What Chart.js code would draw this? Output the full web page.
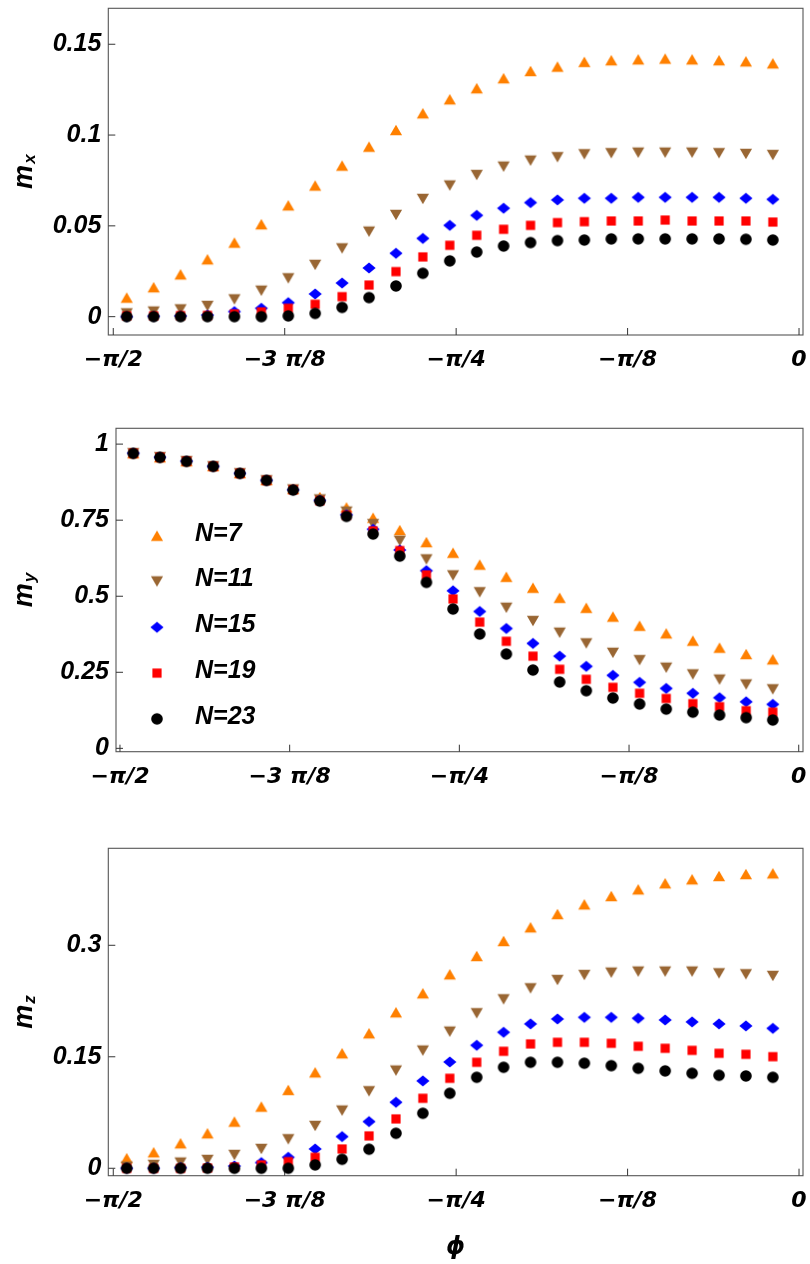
<!DOCTYPE html>
<html><head><meta charset="utf-8">
<script src="https://cdn.jsdelivr.net/npm/chart.js@4.4.1/dist/chart.umd.min.js"></script>
<style>
html,body{margin:0;padding:0;background:#fff;}
.p{position:absolute;left:0;width:810px;}
canvas{display:block;}
</style></head><body>
<div class="p" style="top:0;height:420px"><canvas id="c1"></canvas></div>
<div class="p" style="top:420px;height:420px"><canvas id="c2"></canvas></div>
<div class="p" style="top:840px;height:424px"><canvas id="c3"></canvas></div>
<script>
// ---------- data ----------
const phi = [-1.5400, -1.4783, -1.4167, -1.3550, -1.2933, -1.2317, -1.1700, -1.1083, -1.0467, -0.9850,
             -0.9233, -0.8617, -0.8000, -0.7383, -0.6767, -0.6150, -0.5533, -0.4917, -0.4300, -0.3683,
             -0.3067, -0.2450, -0.1833, -0.1217, -0.0600];
const seriesLabels = ['N=7', 'N=11', 'N=15', 'N=19', 'N=23'];
const seriesColors = ['#FF8000', '#996633', '#0000FF', '#FF0000', '#000000'];

const mx7  = [0.0105, 0.0162, 0.0233, 0.0316, 0.0408, 0.0509, 0.0613, 0.0722, 0.0832, 0.0936, 0.1028, 0.1120, 0.1197, 0.1258, 0.1313, 0.1353, 0.1377, 0.1403, 0.1412, 0.1417, 0.1421, 0.1417, 0.1412, 0.1406, 0.1395];
const mx11 = [0.0018, 0.0028, 0.0040, 0.0059, 0.0095, 0.0143, 0.0211, 0.0285, 0.0376, 0.0468, 0.0560, 0.0648, 0.0722, 0.0780, 0.0826, 0.0859, 0.0878, 0.0894, 0.0900, 0.0903, 0.0903, 0.0903, 0.0900, 0.0896, 0.0890];
const mx15 = [0.0000, 0.0002, 0.0004, 0.0009, 0.0028, 0.0046, 0.0077, 0.0125, 0.0185, 0.0268, 0.0349, 0.0431, 0.0503, 0.0558, 0.0597, 0.0628, 0.0643, 0.0652, 0.0652, 0.0657, 0.0657, 0.0657, 0.0657, 0.0652, 0.0646];
const mx19 = [0.0004, 0.0004, 0.0006, 0.0007, 0.0015, 0.0026, 0.0046, 0.0068, 0.0110, 0.0174, 0.0248, 0.0329, 0.0393, 0.0448, 0.0481, 0.0503, 0.0518, 0.0523, 0.0527, 0.0527, 0.0532, 0.0527, 0.0527, 0.0527, 0.0521];
const mx23 = [0.0000, 0.0000, 0.0000, 0.0000, 0.0000, 0.0000, 0.0004, 0.0018, 0.0051, 0.0105, 0.0169, 0.0239, 0.0307, 0.0356, 0.0389, 0.0408, 0.0419, 0.0422, 0.0428, 0.0428, 0.0428, 0.0428, 0.0428, 0.0426, 0.0422];

const my7  = [0.970, 0.957, 0.944, 0.928, 0.905, 0.882, 0.853, 0.826, 0.792, 0.758, 0.7175, 0.678, 0.643, 0.604, 0.564, 0.528, 0.495, 0.462, 0.433, 0.403, 0.378, 0.354, 0.331, 0.310, 0.2925];
const my11 = [0.970, 0.957, 0.944, 0.927, 0.904, 0.881, 0.851, 0.818, 0.778, 0.737, 0.682, 0.621, 0.5685, 0.513, 0.462, 0.4185, 0.380, 0.345, 0.314, 0.290, 0.265, 0.243, 0.226, 0.210, 0.194];
const my15 = [0.970, 0.957, 0.944, 0.927, 0.904, 0.881, 0.850, 0.815, 0.768, 0.720, 0.652, 0.584, 0.518, 0.450, 0.394, 0.345, 0.303, 0.2695, 0.240, 0.217, 0.197, 0.181, 0.1665, 0.153, 0.1446];
const my19 = [0.970, 0.957, 0.944, 0.927, 0.904, 0.881, 0.850, 0.814, 0.766, 0.715, 0.650, 0.570, 0.491, 0.415, 0.352, 0.303, 0.260, 0.227, 0.2005, 0.181, 0.164, 0.147, 0.137, 0.124, 0.119];
const my23 = [0.9694, 0.9563, 0.9432, 0.9267, 0.9037, 0.8807, 0.8489, 0.8128, 0.7624, 0.7044, 0.632, 0.5455, 0.458, 0.3757, 0.310, 0.2574, 0.218, 0.1895, 0.1654, 0.1457, 0.129, 0.119, 0.1095, 0.1008, 0.0931];

const mz7  = [0.0135, 0.0215, 0.0336, 0.0471, 0.0628, 0.0830, 0.1054, 0.1291, 0.1547, 0.1816, 0.2099, 0.2354, 0.2610, 0.2856, 0.3058, 0.3242, 0.3421, 0.3551, 0.3663, 0.3753, 0.3834, 0.3888, 0.3933, 0.3959, 0.3968];
const mz11 = [0.0022, 0.0045, 0.0076, 0.0112, 0.0179, 0.0260, 0.0390, 0.0569, 0.0776, 0.1036, 0.1314, 0.1583, 0.1838, 0.2085, 0.2273, 0.2421, 0.2533, 0.2600, 0.2632, 0.2646, 0.2646, 0.2646, 0.2623, 0.2610, 0.2587];
const mz15 = [0.0000, 0.0000, 0.0009, 0.0013, 0.0031, 0.0076, 0.0148, 0.0260, 0.0426, 0.0628, 0.0888, 0.1175, 0.1430, 0.1655, 0.1830, 0.1942, 0.2009, 0.2031, 0.2031, 0.2018, 0.1995, 0.1969, 0.1942, 0.1915, 0.1883];
const mz19 = [0.0000, 0.0000, 0.0000, 0.0004, 0.0018, 0.0045, 0.0090, 0.0148, 0.0260, 0.0435, 0.0664, 0.0942, 0.1211, 0.1426, 0.1574, 0.1673, 0.1695, 0.1695, 0.1682, 0.1641, 0.1614, 0.1587, 0.1547, 0.1534, 0.1502];
const mz23 = [0.0000, 0.0000, 0.0000, 0.0000, 0.0000, 0.0000, 0.0000, 0.0045, 0.0121, 0.0256, 0.0471, 0.0740, 0.1009, 0.1224, 0.1359, 0.1426, 0.1426, 0.1413, 0.1381, 0.1345, 0.1310, 0.1278, 0.1251, 0.1242, 0.1224];

const xTickValues = [-Math.PI / 2, -3 * Math.PI / 8, -Math.PI / 4, -Math.PI / 8, 0];
const xTickLabels = ['\u2212\u03C0/2', '\u22123 \u03C0/8', '\u2212\u03C0/4', '\u2212\u03C0/8', '0'];
const mxTicks = [0, 0.05, 0.1, 0.15];
const mxTickLabels = ['0', '0.05', '0.1', '0.15'];
const myTicks = [0, 0.25, 0.5, 0.75, 1];
const myTickLabels = ['0', '0.25', '0.5', '0.75', '1'];
const mzTicks = [0, 0.15, 0.3];
const mzTickLabels = ['0', '0.15', '0.3'];

// ---------- marker images ----------
function marker(kind, color) {
  const s = 16, m = 8;
  const c = document.createElement('canvas');
  c.width = s; c.height = s;
  const g = c.getContext('2d');
  g.fillStyle = color;
  g.beginPath();
  if (kind === 'up') { g.moveTo(m, m - 5.2); g.lineTo(m + 6.1, m + 5.2); g.lineTo(m - 6.1, m + 5.2); g.closePath(); }
  else if (kind === 'down') { g.moveTo(m - 6.1, m - 5.2); g.lineTo(m + 6.1, m - 5.2); g.lineTo(m, m + 5.2); g.closePath(); }
  else if (kind === 'diamond') { g.moveTo(m, m - 5.6); g.lineTo(m + 6.6, m); g.lineTo(m, m + 5.6); g.lineTo(m - 6.6, m); g.closePath(); }
  else if (kind === 'square') { g.rect(m - 4.6, m - 4.6, 9.2, 9.2); }
  else { g.arc(m, m, 5.8, 0, Math.PI * 2); }
  g.fill();
  return c;
}
const markerKinds = ['up', 'down', 'diamond', 'square', 'circle'];
const markerImgs = markerKinds.map((k, i) => marker(k, seriesColors[i]));

// ---------- plugins ----------
const framePlugin = {
  id: 'frame',
  beforeDatasetsDraw(chart) {
    const {ctx, chartArea: a, scales} = chart;
    ctx.save();
    ctx.strokeStyle = '#555';
    ctx.lineWidth = 1.1;
    ctx.strokeRect(a.left, a.top, a.right - a.left, a.bottom - a.top);
    ctx.strokeStyle = '#333';
    ctx.lineWidth = 1;
    ctx.beginPath();
    scales.x.ticks.forEach(t => {
      const px = scales.x.getPixelForValue(t.value);
      ctx.moveTo(px, a.bottom); ctx.lineTo(px, a.bottom - 7);
    });
    scales.y.ticks.forEach(t => {
      const py = scales.y.getPixelForValue(t.value);
      ctx.moveTo(a.left, py); ctx.lineTo(a.left + 7, py);
    });
    ctx.stroke();
    ctx.restore();
  }
};

const yTitlePlugin = {
  id: 'ytitle',
  afterDraw(chart, args, opts) {
    const {ctx, chartArea: a} = chart;
    const cy = (a.top + a.bottom) / 2;
    ctx.save();
    ctx.translate(opts.x, cy);
    ctx.rotate(-Math.PI / 2);
    ctx.fillStyle = '#000';
    ctx.textBaseline = 'alphabetic';
    ctx.textAlign = 'left';
    const fm = 'italic bold 27px "Liberation Sans", Arial, sans-serif';
    const fs = 'italic bold 17px "Liberation Sans", Arial, sans-serif';
    ctx.font = fm; const wm = ctx.measureText('m').width;
    ctx.font = fs; const ws = ctx.measureText(opts.sub).width;
    const x0 = -(wm + ws + 1) / 2;
    ctx.font = fm; ctx.fillText('m', x0, 7);
    ctx.font = fs; ctx.fillText(opts.sub, x0 + wm + 1, 10);
    ctx.restore();
  }
};

const legendPlugin = {
  id: 'ilegend',
  afterDatasetsDraw(chart, args, opts) {
    if (!opts.show) return;
    const {ctx, chartArea: a} = chart;
    ctx.save();
    ctx.fillStyle = '#000';
    ctx.font = 'italic bold 25px "Liberation Sans", Arial, sans-serif';
    ctx.textBaseline = 'middle';
    ctx.textAlign = 'left';
    chart.data.datasets.forEach((ds, i) => {
      const y = a.top + 107.4 + i * 45.8;
      const img = ds.pointStyle;
      ctx.drawImage(img, a.left + 41 - img.width / 2, y - img.height / 2);
      ctx.fillText(ds.label, a.left + 79, y - 2);
    });
    ctx.restore();
  }
};

// ---------- chart builder ----------
function makeChart(id, series, yTicks, yTickLabels, cfg) {
  const datasets = series.map((arr, i) => ({
    label: seriesLabels[i],
    data: phi.map((x, k) => ({x: x, y: arr[k]})),
    pointStyle: markerImgs[i],
    pointRadius: 6,
    pointHoverRadius: 6,
    showLine: false,
    order: series.length - i
  }));
  return new Chart(document.getElementById(id), {
    type: 'scatter',
    data: {datasets},
    plugins: [framePlugin, yTitlePlugin, legendPlugin],
    options: {
      responsive: true,
      maintainAspectRatio: false,
      animation: false,
      events: [],
      layout: {padding: {top: cfg.top, right: cfg.right, left: 0, bottom: 0}},
      plugins: {
        legend: {display: false},
        tooltip: {enabled: false},
        ytitle: {sub: cfg.sub, x: 24.5},
        ilegend: {show: !!cfg.legend}
      },
      scales: {
        x: {
          type: 'linear',
          min: cfg.xmin, max: cfg.xmax,
          grid: {display: false, drawTicks: false},
          border: {display: false},
          afterBuildTicks: s => { s.ticks = xTickValues.map(v => ({value: v})); },
          afterFit: s => { s.height = cfg.xh; s.paddingLeft = 0; s.paddingRight = 0; },
          ticks: {
            autoSkip: false, maxRotation: 0, minRotation: 0, padding: 12.5, color: '#000',
            font: {family: '"DejaVu Sans", sans-serif', size: 22, style: 'italic', weight: 'bold'},
            callback: (v, i) => xTickLabels[i]
          },
          title: cfg.phi ? {
            display: true, text: '\u03D5', color: '#000', padding: {top: 0, bottom: 2},
            font: {family: '"DejaVu Sans", sans-serif', size: 24, style: 'italic', weight: 'bold'}
          } : {display: false}
        },
        y: {
          type: 'linear',
          min: cfg.ymin, max: cfg.ymax,
          grid: {display: false, drawTicks: false},
          border: {display: false},
          afterBuildTicks: s => { s.ticks = yTicks.map(v => ({value: v})); },
          afterFit: s => { s.width = cfg.yw; s.paddingTop = 0; s.paddingBottom = 0; },
          ticks: {
            autoSkip: false, padding: 7, color: '#000',
            font: {family: '"Liberation Sans", Arial, sans-serif', size: 25, style: 'italic', weight: 'bold'},
            callback: (v, i) => yTickLabels[i]
          }
        }
      }
    }
  });
}

makeChart('c1', [mx7, mx11, mx15, mx19, mx23], mxTicks, mxTickLabels,
  {top: 8.3, right: 5, yw: 108.3, xh: 85, xmin: -1.5822, xmax: 0.0091, ymin: -0.0101, ymax: 0.1698, sub: 'x'});
makeChart('c2', [my7, my11, my15, my19, my23], myTicks, myTickLabels,
  {top: 8.3, right: 6.7, yw: 116, xh: 88.3, xmin: -1.5800, xmax: 0.0099, ymin: -0.011, ymax: 1.052, sub: 'y', legend: true});
makeChart('c3', [mz7, mz11, mz15, mz19, mz23], mzTicks, mzTickLabels,
  {top: 8.3, right: 5, yw: 108.3, xh: 88.3, xmin: -1.5822, xmax: 0.0091, ymin: -0.010, ymax: 0.4305, sub: 'z', phi: true});
</script>
</body></html>
